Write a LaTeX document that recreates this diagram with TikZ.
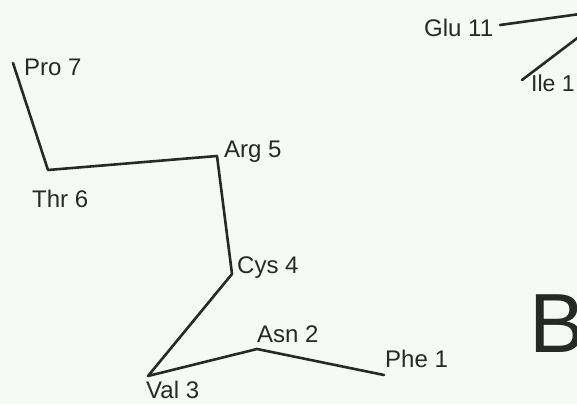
\documentclass[tikz,border=0pt]{standalone}
\usepackage{fontspec}
\setmainfont{Liberation Sans}
\usetikzlibrary{positioning}
\definecolor{paper}{RGB}{246,250,244}
\definecolor{ink}{RGB}{38,42,38}

\begin{document}
\begin{tikzpicture}[x=1pt, y=-1pt, font=\fontsize{24}{28}\selectfont, bond/.style={draw=ink, line width=2.6pt, line join=round, line cap=round}, res/.style={text=ink, inner sep=0pt, anchor=base west}]
\fill[paper] (0,0) rectangle (577,404);
\clip (0,0) rectangle (577,404);
% backbone corners
\coordinate (pro7) at (13,63);
\coordinate (thr6) at (48,170);
\coordinate (arg5) at (217,156);
\coordinate (cys4) at (232,274);
\coordinate (val3) at (148,376);
\coordinate (asn2) at (257,349);
\coordinate (phe1) at (384,375);
\coordinate (glu11) at (500,25);
\coordinate (ile1) at (522,80);
\coordinate (offA) at (580,14);
\coordinate (offB) at (580,36);
% residue labels
\node[res] (lpro7) at (24,75) {Pro 7};
\node[res] (lthr6) at (32,207) {Thr 6};
\node[res] (larg5) at (224,157) {Arg 5};
\node[res] (lcys4) at (237,273) {Cys 4};
\node[res] (lval3) at (146,398) {Val 3};
\node[res] (lasn2) at (257,342) {Asn 2};
\node[res] (lphe1) at (385,367) {Phe 1};
\node[res] (lglu11) at (424,37) {Glu 11};
\node[res, font=\fontsize{23}{27}\selectfont] (lile1) at (531,91) {Ile 1};
\node[res, font=\fontsize{84}{90}\selectfont] (panel) at (529,352) {B};
\draw[bond] (pro7) -- (thr6) -- (arg5) -- (cys4) -- (val3) -- (asn2) -- (phe1);
\draw[bond] (glu11) -- (offA);
\draw[bond] (ile1) -- (offB);
\end{tikzpicture}
\end{document}
